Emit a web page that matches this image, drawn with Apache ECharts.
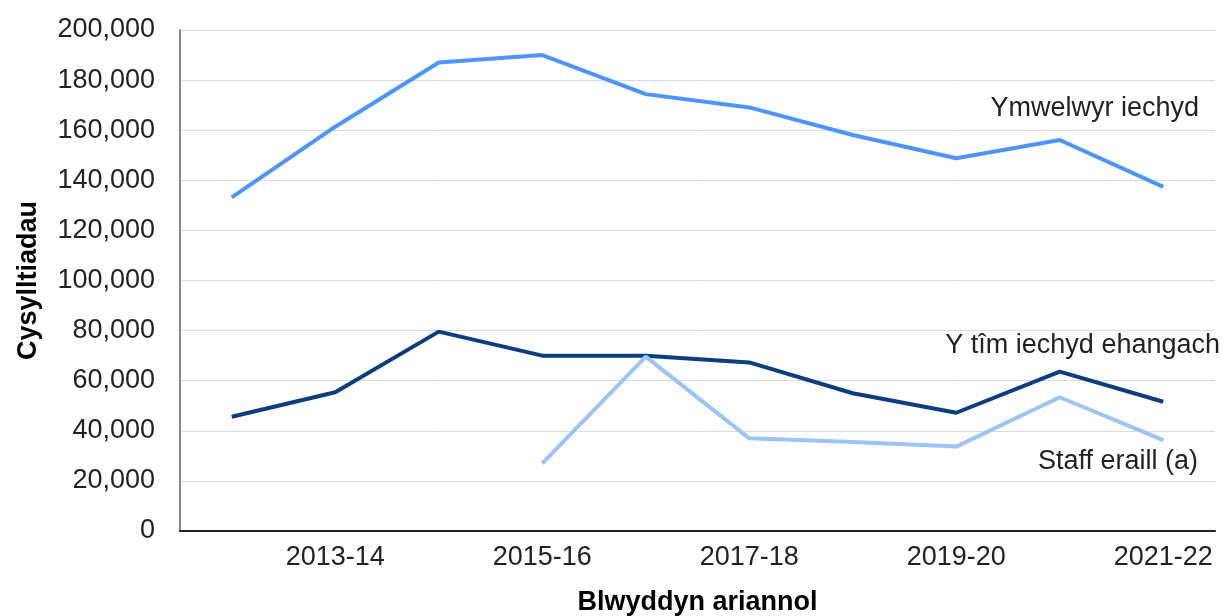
<!DOCTYPE html>
<html>
<head>
<meta charset="utf-8">
<script src="https://cdn.jsdelivr.net/npm/echarts@6/dist/echarts.min.js"></script>
<style>
  html, body { margin: 0; padding: 0; background: #fff; }
  #chart { width: 1223px; height: 616px; }
</style>
</head>
<body>
<div id="chart"></div>
<script>
  // blynyddoedd ariannol
  const years = ['2012-13', '2013-14', '2014-15', '2015-16', '2016-17',
                 '2017-18', '2018-19', '2019-20', '2020-21', '2021-22'];

  const healthVisitors = [133200, 161400, 187000, 190000, 174400, 169100, 158100, 148800, 156100, 137400];
  const widerTeam = [45600, 55400, 79600, 70000, 70000, 67300, 55000, 47200, 63600, 51600];
  const otherStaff = [null, null, null, 27000, 69600, 37000, 35500, 33700, 53400, 36300];

  const yTicks = [0, 20000, 40000, 60000, 80000, 100000, 120000, 140000, 160000, 180000, 200000];

  const font = '"Liberation Sans", Arial, sans-serif';
  const fmt = v => String(v).replace(/\B(?=(\d{3})+(?!\d))/g, ',');

  let myChart = echarts.init(document.getElementById('chart'));
  let option = {
    animation: false,
    textStyle: { fontFamily: font },
    grid: { left: 180, right: 8, top: 30, bottom: 85, outerBoundsMode: 'none', containLabel: false },
    xAxis: {
      type: 'category',
      data: years,
      boundaryGap: true,
      name: 'Blwyddyn ariannol',
      nameLocation: 'middle',
      nameGap: 58,
      nameTextStyle: { fontFamily: font, fontSize: 27, fontWeight: 'bold', color: '#000' },
      axisLine: { lineStyle: { color: '#222', width: 2 } },
      axisTick: { show: false },
      axisLabel: {
        interval: (i) => i % 2 === 1,
        margin: 13,
        fontFamily: font,
        fontSize: 27,
        color: '#222'
      }
    },
    yAxis: {
      type: 'value',
      min: yTicks[0],
      max: yTicks[yTicks.length - 1],
      interval: 20000,
      name: 'Cysylltiadau',
      nameLocation: 'middle',
      nameGap: 138,
      nameTextStyle: { fontFamily: font, fontSize: 27, fontWeight: 'bold', color: '#000' },
      axisLine: { show: true, lineStyle: { color: '#888', width: 2 } },
      axisTick: { show: false },
      splitLine: { lineStyle: { color: '#dcdcdc', width: 1 } },
      axisLabel: {
        margin: 25,
        fontFamily: font,
        fontSize: 27,
        color: '#222',
        formatter: fmt
      }
    },
    series: [
      {
        name: 'Ymwelwyr iechyd',
        type: 'line',
        data: healthVisitors,
        symbol: 'none',
        lineStyle: { color: '#4d94ff', width: 4 }
      },
      {
        name: 'Y tîm iechyd ehangach',
        type: 'line',
        data: widerTeam,
        symbol: 'none',
        lineStyle: { color: '#0b3d82', width: 4 }
      },
      {
        name: 'Staff eraill (a)',
        type: 'line',
        data: otherStaff,
        symbol: 'none',
        lineStyle: { color: '#9cc4f7', width: 4 }
      }
    ],
    graphic: [
      {
        type: 'text', right: 24, top: 95,
        style: { text: 'Ymwelwyr iechyd', font: '27px ' + font, fill: '#222' }
      },
      {
        type: 'text', right: 3, top: 332,
        style: { text: 'Y tîm iechyd ehangach', font: '27px ' + font, fill: '#222' }
      },
      {
        type: 'text', right: 25, top: 448,
        style: { text: 'Staff eraill (a)', font: '27px ' + font, fill: '#222' }
      }
    ]
  };

  myChart.setOption(option);
</script>
</body>
</html>
